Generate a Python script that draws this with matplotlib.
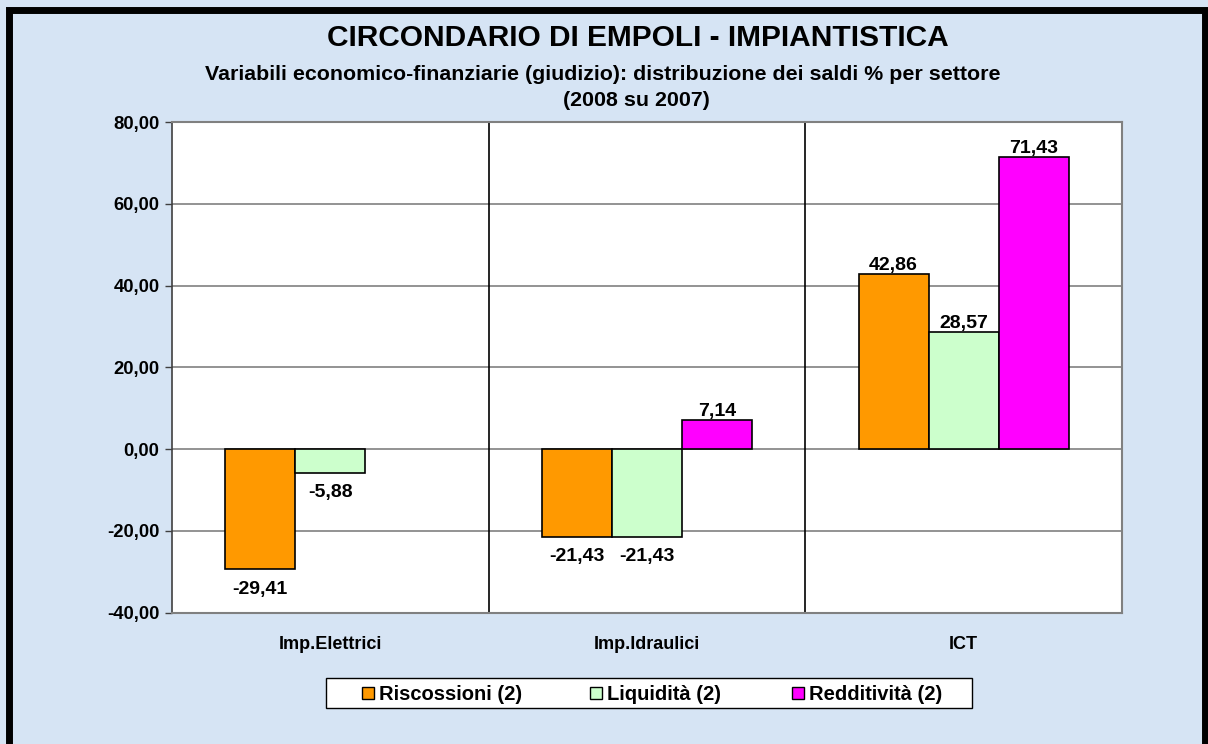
import numpy as np
import matplotlib
matplotlib.use("Agg")
import matplotlib.pyplot as plt
from matplotlib.patches import Rectangle

plt.rcParams['font.family'] = ['Liberation Sans', 'DejaVu Sans']
plt.rcParams['font.weight'] = 'bold'

# dati
settori = ['Imp.Elettrici', 'Imp.Idraulici', 'ICT']
riscossioni = [-29.41, -21.43, 42.86]
liquidita = [-5.88, -21.43, 28.57]
redditivita = [np.nan, 7.14, 71.43]
serie = ['Riscossioni (2)', 'Liquidità (2)', 'Redditività (2)']
colori = ['#FF9900', '#CCFFCC', '#FF00FF']
y_ticks = [-40, -20, 0, 20, 40, 60, 80]

W, H = 1208, 744
fig = plt.figure(figsize=(W / 100, H / 100), dpi=100)
fig.patch.set_facecolor('#D6E4F4')

# cornice nera
fig.patches.append(Rectangle((9 / W, -0.05), (1205 - 9) / W, 1.05 - 9.5 / H,
                             transform=fig.transFigure, fill=False,
                             edgecolor='black', linewidth=5, zorder=10))

ax = fig.add_axes([172 / W, 1 - 612.7 / H, (1122 - 172) / W, (612.7 - 122) / H])
ax.set_facecolor('white')

x = np.arange(len(settori))
w = 0.221
for i, (vals, col) in enumerate(zip([riscossioni, liquidita, redditivita], colori)):
    pos = x + (i - 1) * w
    ax.bar(pos, vals, width=w, color=col, edgecolor='black', linewidth=1.2, zorder=3)
    for xp, v in zip(pos, vals):
        if np.isnan(v):
            continue
        txt = f"{v:.2f}".replace('.', ',')
        if v >= 0:
            ax.annotate(txt, (xp, v), xytext=(0, 0), textcoords='offset points',
                        ha='center', va='bottom', fontsize=14, fontweight='bold')
        else:
            ax.annotate(txt, (xp, v), xytext=(0, -8), textcoords='offset points',
                        ha='center', va='top', fontsize=14, fontweight='bold')

ax.set_xlim(-0.5, 2.5)
ax.set_ylim(-40, 80)
ax.set_yticks(y_ticks)
ax.set_yticklabels([f"{t:.2f}".replace('.', ',') for t in y_ticks],
                   fontsize=13.3, fontweight='bold')
ax.tick_params(axis='y', direction='out', length=5, width=1, color='#404040', pad=4)
ax.set_xticks(x)
ax.set_xticklabels(settori, fontsize=13, fontweight='bold')
ax.tick_params(axis='x', length=0, pad=17)

ax.yaxis.grid(True, color='#808080', linewidth=1.2, zorder=0)
ax.set_axisbelow(True)
for sep in [0.5, 1.5]:
    ax.axvline(sep, color='black', linewidth=1.2, zorder=1)

for s in ['top', 'right', 'bottom']:
    ax.spines[s].set_color('#808080')
    ax.spines[s].set_linewidth(1.5)
ax.spines['left'].set_color('#404040')
ax.spines['left'].set_linewidth(1.2)

# titoli
fig.text(638 / W, 1 - 38 / H, 'CIRCONDARIO DI EMPOLI - IMPIANTISTICA',
         ha='center', va='center', fontsize=21.5, fontweight='bold')
fig.text(603 / W, 1 - 75 / H,
         'Variabili economico-finanziarie (giudizio): distribuzione dei saldi % per settore',
         ha='center', va='center', fontsize=15.4, fontweight='bold')
fig.text(636 / W, 1 - 100 / H, '(2008 su 2007)',
         ha='center', va='center', fontsize=15.4, fontweight='bold')

# legenda
fig.patches.append(Rectangle((326 / W, 1 - 708 / H), (972 - 326) / W, 30 / H,
                             transform=fig.transFigure, facecolor='white',
                             edgecolor='black', linewidth=1, zorder=5))
leg_x = [362, 590, 792]
for lx, nome, col in zip(leg_x, serie, colori):
    fig.patches.append(Rectangle((lx / W, 1 - 699 / H), 12 / W, 12 / H,
                                 transform=fig.transFigure, facecolor=col,
                                 edgecolor='black', linewidth=1, zorder=6))
    fig.text((lx + 17) / W, 1 - 694 / H, nome, ha='left', va='center',
             fontsize=14.5, fontweight='bold', zorder=7)

fig.savefig('out.png', dpi=100, facecolor=fig.get_facecolor())
